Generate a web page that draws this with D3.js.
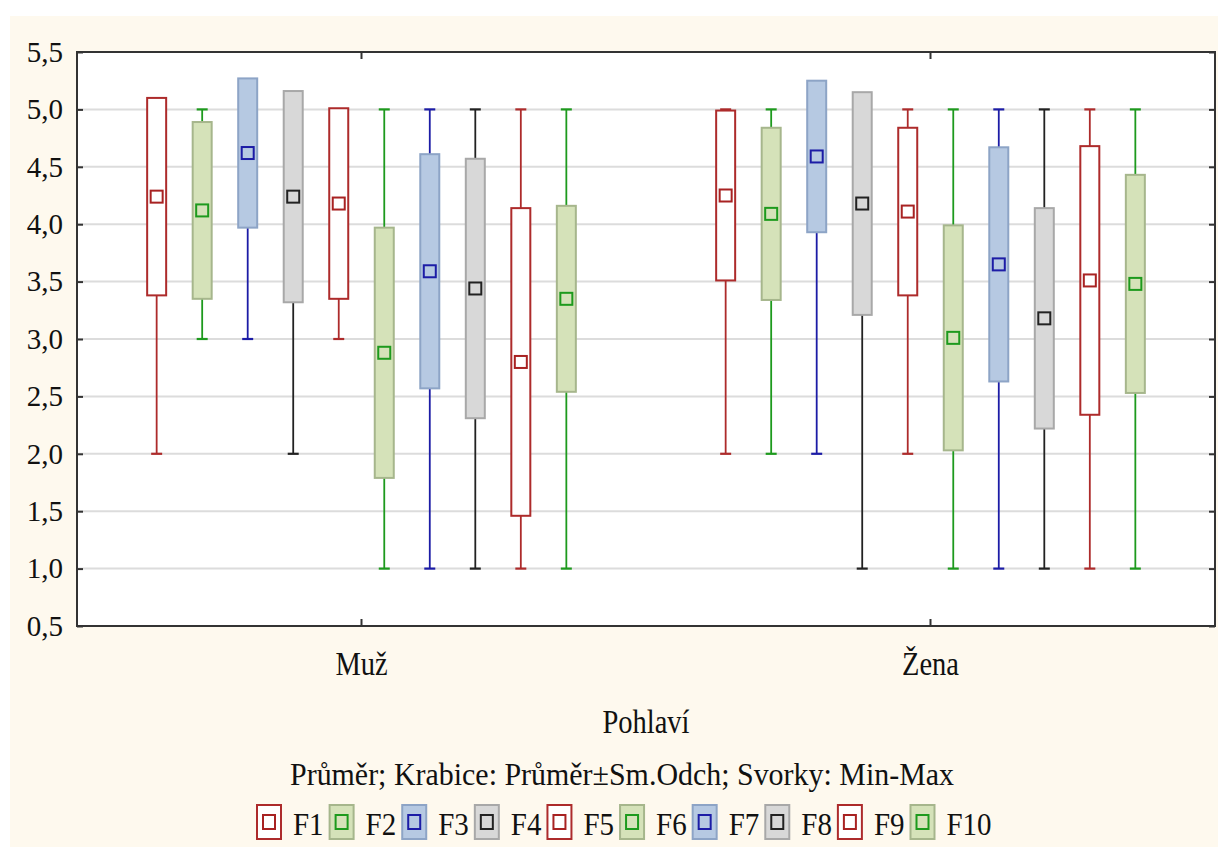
<!DOCTYPE html>
<html>
<head>
<meta charset="utf-8">
<script src="https://cdn.jsdelivr.net/npm/d3@7"></script>
</head>
<body style="margin:0;padding:0">
<svg id="chart" width="1218" height="847" font-family="Times New Roman, Liberation Serif, Tinos, Nimbus Roman, FreeSerif, serif" style="display:block"></svg>
<script>
// ---- data ----
const categories = ["Muž", "Žena"];
const series = ["F1", "F2", "F3", "F4", "F5", "F6", "F7", "F8", "F9", "F10"];
const meanMuz  = [4.24, 4.12, 4.62, 4.24, 4.18, 2.88, 3.59, 3.44, 2.80, 3.35];
const sdMuz    = [0.86, 0.77, 0.65, 0.92, 0.83, 1.09, 1.02, 1.13, 1.34, 0.81];
const minMuz   = [2, 3, 3, 2, 3, 1, 1, 1, 1, 1];
const maxMuz   = [5, 5, 5, 5, 5, 5, 5, 5, 5, 5];
const meanZena = [4.25, 4.09, 4.59, 4.18, 4.11, 3.01, 3.65, 3.18, 3.51, 3.48];
const sdZena   = [0.74, 0.75, 0.66, 0.97, 0.73, 0.98, 1.02, 0.96, 1.17, 0.95];
const minZena  = [2, 2, 2, 1, 2, 1, 1, 1, 1, 1];
const maxZena  = [5, 5, 5, 5, 5, 5, 5, 5, 5, 5];
const yTicks = [0.5, 1.0, 1.5, 2.0, 2.5, 3.0, 3.5, 4.0, 4.5, 5.0, 5.5];
const xTitle = "Pohlaví";
const subtitle = "Průměr; Krabice: Průměr±Sm.Odch; Svorky: Min-Max";

// ---- styles per series type ----
const styles = {
  red:   { fill: "#ffffff", stroke: "#ad2b2b", whisker: "#ad2b2b", mark: "#a82222" },
  green: { fill: "#d5e2b9", stroke: "#a6b68c", whisker: "#1d9a1d", mark: "#1d9a1d" },
  blue:  { fill: "#b6c9e2", stroke: "#8da4c6", whisker: "#1c1ca6", mark: "#1c1ca6" },
  grey:  { fill: "#d8d8d8", stroke: "#a8a8a8", whisker: "#222222", mark: "#222222" }
};
const seriesStyle = ["red", "green", "blue", "grey", "red", "green", "blue", "grey", "red", "green"];

const table = [];
categories.forEach((c, ci) => {
  const mean = ci === 0 ? meanMuz : meanZena;
  const sd = ci === 0 ? sdMuz : sdZena;
  const mn = ci === 0 ? minMuz : minZena;
  const mx = ci === 0 ? maxMuz : maxZena;
  series.forEach((s, si) => {
    table.push({ cat: c, ser: s, mean: mean[si], sd: sd[si], min: mn[si], max: mx[si], st: styles[seriesStyle[si]] });
  });
});

const FONT = '"Times New Roman", "Liberation Serif", Tinos, "Nimbus Roman", FreeSerif, serif';
const svg = d3.select("#chart");
const W = 1218, H = 847;
const plot = { left: 77, right: 1215, top: 52, bottom: 626 };

svg.append("rect").attr("x", 0).attr("y", 0).attr("width", W).attr("height", H).attr("fill", "#ffffff");
svg.append("rect").attr("x", 10).attr("y", 16).attr("width", W - 10).attr("height", H - 16).attr("fill", "#fef9ee");
svg.append("rect").attr("x", plot.left).attr("y", plot.top)
  .attr("width", plot.right - plot.left).attr("height", plot.bottom - plot.top).attr("fill", "#ffffff");

const x0 = d3.scaleBand().domain(categories).range([plot.left, plot.right]).padding(0);
const x1 = d3.scalePoint().domain(series).range([0, x0.bandwidth()]).padding(1.75);
const y = d3.scaleLinear().domain([0.5, 5.5]).range([plot.bottom, plot.top]);

svg.append("g").selectAll("line").data(yTicks.filter(t => t > 0.5 && t < 5.5)).join("line")
  .attr("x1", plot.left).attr("x2", plot.right)
  .attr("y1", d => y(d)).attr("y2", d => y(d))
  .attr("stroke", "#dcdcdc").attr("stroke-width", 2);

const boxW = 19, capW = 11, markS = 12;
const items = svg.append("g").selectAll("g.item").data(table).join("g").attr("class", "item")
  .attr("transform", d => `translate(${x0(d.cat) + x1(d.ser)},0)`);
items.append("line").attr("x1", 0).attr("x2", 0)
  .attr("y1", d => y(d.min)).attr("y2", d => y(d.max))
  .attr("stroke", d => d.st.whisker).attr("stroke-width", 1.8);
items.append("line").attr("x1", -capW / 2).attr("x2", capW / 2)
  .attr("y1", d => y(d.min)).attr("y2", d => y(d.min))
  .attr("stroke", d => d.st.whisker).attr("stroke-width", 2.2);
items.append("line").attr("x1", -capW / 2).attr("x2", capW / 2)
  .attr("y1", d => y(d.max)).attr("y2", d => y(d.max))
  .attr("stroke", d => d.st.whisker).attr("stroke-width", 2.2);
items.append("rect").attr("x", -boxW / 2).attr("width", boxW)
  .attr("y", d => y(d.mean + d.sd))
  .attr("height", d => y(d.mean - d.sd) - y(d.mean + d.sd))
  .attr("fill", d => d.st.fill).attr("stroke", d => d.st.stroke).attr("stroke-width", 2);
items.append("rect").attr("x", -markS / 2).attr("width", markS)
  .attr("y", d => y(d.mean) - markS / 2).attr("height", markS)
  .attr("fill", "none").attr("stroke", d => d.st.mark).attr("stroke-width", 2);

svg.append("rect").attr("x", plot.left).attr("y", plot.top)
  .attr("width", plot.right - plot.left).attr("height", plot.bottom - plot.top)
  .attr("fill", "none").attr("stroke", "#333").attr("stroke-width", 2);

// y axis ticks (inward) and labels
const gl = svg.append("g").attr("transform", `translate(${plot.left},0)`)
  .call(d3.axisLeft(y).tickValues(yTicks).tickSize(-6).tickFormat(""));
gl.select(".domain").remove();
gl.selectAll(".tick line").attr("stroke", "#333").attr("stroke-width", 2);
svg.append("g").selectAll("text").data(yTicks).join("text")
  .style("font-family", FONT)
  .attr("x", plot.left - 14).attr("y", d => y(d)).attr("dy", "0.34em")
  .attr("text-anchor", "end").attr("font-size", 29).attr("fill", "#111")
  .text(d => d3.format(".1f")(d).replace(".", ","));

const gr = svg.append("g").attr("transform", `translate(${plot.right},0)`)
  .call(d3.axisRight(y).tickValues(yTicks).tickSize(-6).tickFormat(""));
gr.select(".domain").remove();
gr.selectAll(".tick line").attr("stroke", "#333").attr("stroke-width", 2);
const gb = svg.append("g").attr("transform", `translate(0,${plot.bottom})`)
  .call(d3.axisBottom(x0).tickSize(-7).tickFormat(""));
gb.select(".domain").remove();
gb.selectAll(".tick line").attr("stroke", "#333").attr("stroke-width", 2);
const gt = svg.append("g").attr("transform", `translate(0,${plot.top})`)
  .call(d3.axisTop(x0).tickSize(-7).tickFormat(""));
gt.select(".domain").remove();
gt.selectAll(".tick line").attr("stroke", "#333").attr("stroke-width", 2);

// category labels
svg.append("g").selectAll("text").data(categories).join("text")
  .style("font-family", FONT).attr("fill", "#111")
  .attr("transform", d => `translate(${x0(d) + x0.bandwidth() / 2},675) scale(0.95,1.12)`)
  .attr("text-anchor", "middle").attr("font-size", 30).text(d => d);

// x title
svg.append("text").style("font-family", FONT).attr("fill", "#111")
  .attr("transform", `translate(${(plot.left + plot.right) / 2},733) scale(0.95,1.12)`)
  .attr("text-anchor", "middle").attr("font-size", 30).text(xTitle);

// subtitle
svg.append("text").style("font-family", FONT).attr("fill", "#111")
  .attr("transform", `translate(622,785) scale(1,1.12)`)
  .attr("text-anchor", "middle").attr("font-size", 29)
  .attr("textLength", 664).attr("lengthAdjust", "spacingAndGlyphs")
  .text(subtitle);

// legend
const leg = svg.append("g");
let lx = 257;
series.forEach((s, i) => {
  const st = styles[seriesStyle[i]];
  const sw = leg.append("g").attr("transform", `translate(${lx},805)`);
  sw.append("rect").attr("x", 0).attr("y", 0).attr("width", 24).attr("height", 34)
    .attr("fill", st.fill).attr("stroke", st.stroke).attr("stroke-width", 2);
  sw.append("rect").attr("x", 6).attr("y", 10).attr("width", 12).attr("height", 14)
    .attr("fill", "none").attr("stroke", st.mark).attr("stroke-width", 2);
  const t = leg.append("text").style("font-family", FONT).attr("fill", "#111")
    .attr("transform", `translate(${lx + 36},835) scale(1,1.12)`)
    .attr("font-size", 29).text(s);
  lx += 36 + t.node().getComputedTextLength() + 6;
});
</script>
</body>
</html>
